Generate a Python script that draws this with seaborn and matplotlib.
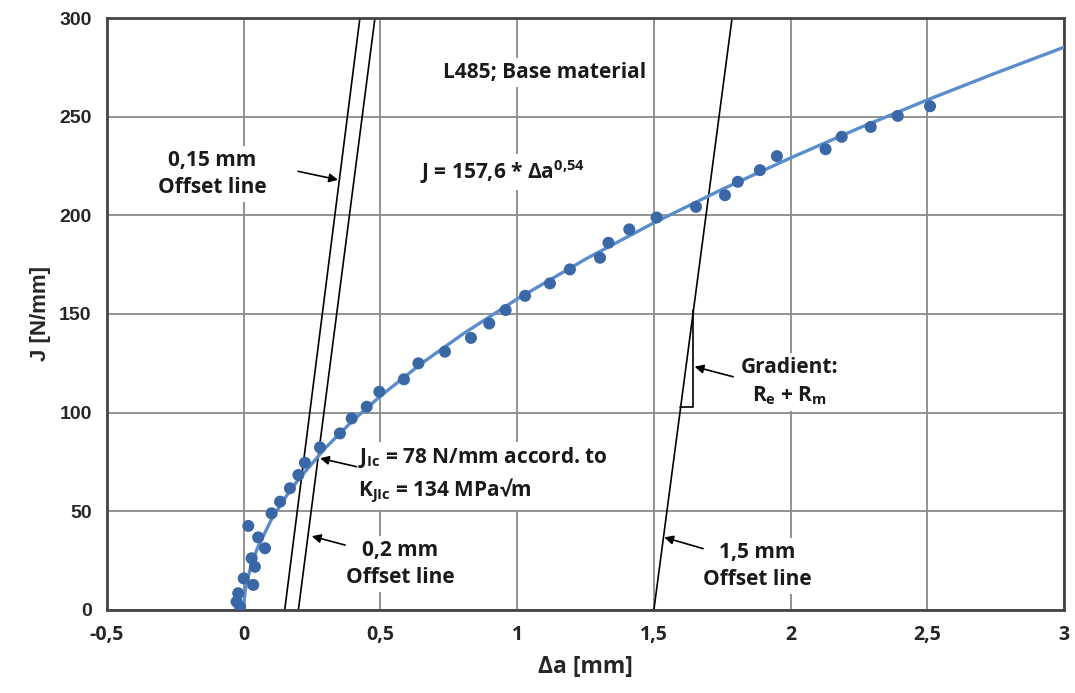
import matplotlib
matplotlib.use("Agg")
import matplotlib.pyplot as plt
import seaborn as sns
import pandas as pd

# measured points, delta a [mm] / J [N/mm]
da_meas = [-0.013, -0.026, -0.02, 0.035, 0.0, 0.041, 0.029, 0.078, 0.053, 0.017,
           0.102, 0.133, 0.169, 0.2, 0.224, 0.279, 0.352, 0.395, 0.45, 0.496,
           0.586, 0.639, 0.736, 0.831, 0.898, 0.958, 1.029, 1.12, 1.193, 1.303,
           1.334, 1.41, 1.51, 1.654, 1.76, 1.807, 1.888, 1.95, 2.128, 2.187,
           2.293, 2.392, 2.51]
j_meas = [1.5, 4.2, 8.5, 12.7, 16.0, 21.9, 26.2, 31.3, 36.8, 42.6,
          49.0, 54.9, 61.7, 68.4, 74.6, 82.4, 89.5, 97.1, 103.0, 110.6,
          116.9, 125.0, 130.9, 137.9, 145.2, 152.0, 159.2, 165.5, 172.6, 178.5,
          186.1, 192.9, 198.9, 204.3, 210.2, 217.0, 222.9, 230.0, 233.5, 239.8,
          244.8, 250.4, 255.3]

# fitted curve
da_fit = [0.0, 0.002, 0.005, 0.01, 0.025, 0.05, 0.1, 0.15, 0.2, 0.3, 0.4, 0.5,
          0.65, 0.8, 1.0, 1.25, 1.5, 1.75, 2.0, 2.25, 2.5, 2.75, 3.0]
j_fit = [0.0, 5.5, 9.0, 13.1, 21.5, 31.3, 45.5, 56.6, 66.1, 82.3, 96.1, 108.4,
         124.9, 139.7, 157.6, 177.8, 196.2, 213.2, 229.1, 244.2, 258.5, 272.1, 285.2]

# offset lines (start, end at top of chart)
off_015_x = [0.15, 0.425]
off_02_x = [0.2, 0.48]
off_15_x = [1.5, 1.786]
off_j = [0, 300]

# gradient triangle
tri_x = [1.596, 1.643, 1.643]
tri_j = [103, 103, 152]

x_ticks = [-0.5, 0, 0.5, 1, 1.5, 2, 2.5, 3]
x_ticklabels = ["-0,5", "0", "0,5", "1", "1,5", "2", "2,5", "3"]
y_ticks = [0, 50, 100, 150, 200, 250, 300]

sns.set_style("whitegrid")
plt.rcParams['font.family'] = ['Open Sans', 'DejaVu Sans']
plt.rcParams['mathtext.fontset'] = 'custom'
plt.rcParams['mathtext.rm'] = 'Open Sans'
plt.rcParams['mathtext.bf'] = 'Open Sans:bold'

fig = plt.figure(figsize=(10.75, 6.93), dpi=100)
ax = fig.add_axes([0.0995, 0.1198, 0.8903, 0.8542])

pt_color = "#3a68a6"
line_color = "#5b8dcc"

df_fit = pd.DataFrame({"da": da_fit, "J": j_fit})
sns.lineplot(data=df_fit, x="da", y="J", ax=ax, color=line_color, linewidth=2.4, zorder=3)

df_meas = pd.DataFrame({"da": da_meas, "J": j_meas})
sns.scatterplot(data=df_meas, x="da", y="J", ax=ax, color=pt_color, s=75,
                edgecolor="none", zorder=4)

for xs in (off_015_x, off_02_x, off_15_x):
    ax.plot(xs, off_j, color="black", linewidth=1.2, zorder=2)
ax.plot(tri_x, tri_j, color="black", linewidth=1.2, zorder=2)

ax.set_xlim(-0.5, 3)
ax.set_ylim(0, 300)
ax.set_xticks(x_ticks)
ax.set_xticklabels(x_ticklabels)
ax.set_yticks(y_ticks)
for lab in ax.get_xticklabels():
    lab.set_fontweight("bold")
    lab.set_fontsize(14)
for lab in ax.get_yticklabels():
    lab.set_fontweight("bold")
    lab.set_fontsize(14)
    lab.set_family(["Liberation Sans", "DejaVu Sans"])
ax.tick_params(axis="both", length=5, width=1.2, color="#666666", pad=6)

ax.grid(True, color="#8a8a8a", linewidth=1.3)
for sp in ax.spines.values():
    sp.set_visible(True)
    sp.set_color("#444444")
    sp.set_linewidth(2)

ax.set_xlabel("Δa [mm]", fontsize=16.5, fontweight="bold", labelpad=7)
ax.set_ylabel("J [N/mm]", fontsize=16, fontweight="bold", labelpad=6,
              family=["Liberation Sans", "DejaVu Sans"])

box = dict(boxstyle="square,pad=0.2", facecolor="white", edgecolor="none")
txt = dict(fontsize=15, fontweight="bold", color="#1a1a1a", zorder=5,
           linespacing=1.4, bbox=box)


def arrow(tail, head):
    ax.annotate("", xy=head, xytext=tail, zorder=5,
                arrowprops=dict(arrowstyle="-|>", color="black", linewidth=1.2,
                                mutation_scale=13, shrinkA=0, shrinkB=0))


ax.text(1.1, 272.5, "L485; Base material", ha="center", va="center", **txt)
ax.text(0.645, 222, r"J = 157,6 * Δa$^{\mathbf{0{,}54}}$", ha="left", va="center", **txt)

ax.text(-0.116, 221, "0,15 mm\nOffset line", ha="center", va="center", **txt)
arrow((0.199, 222.3), (0.345, 218))

ax.text(0.572, 23.3, "0,2 mm\nOffset line", ha="center", va="center", **txt)
arrow((0.371, 32.9), (0.249, 37.4))

ax.text(1.877, 22.3, "1,5 mm\nOffset line", ha="center", va="center", **txt)
arrow((1.68, 31.1), (1.538, 36.8))

ax.text(1.998, 115.5, "Gradient:\n" + r"R$_\mathbf{e}$ + R$_\mathbf{m}$",
        ha="center", va="center", **txt)
arrow((1.79, 118.2), (1.649, 123.3))

ax.text(0.419, 68.4, r"J$_\mathbf{Ic}$ = 78 N/mm accord. to" + "\n" +
        r"K$_\mathbf{JIc}$ = 134 MPa√m", ha="left", va="center", **txt)
arrow((0.413, 72.6), (0.279, 76.9))

fig.savefig("out.png", dpi=100)
